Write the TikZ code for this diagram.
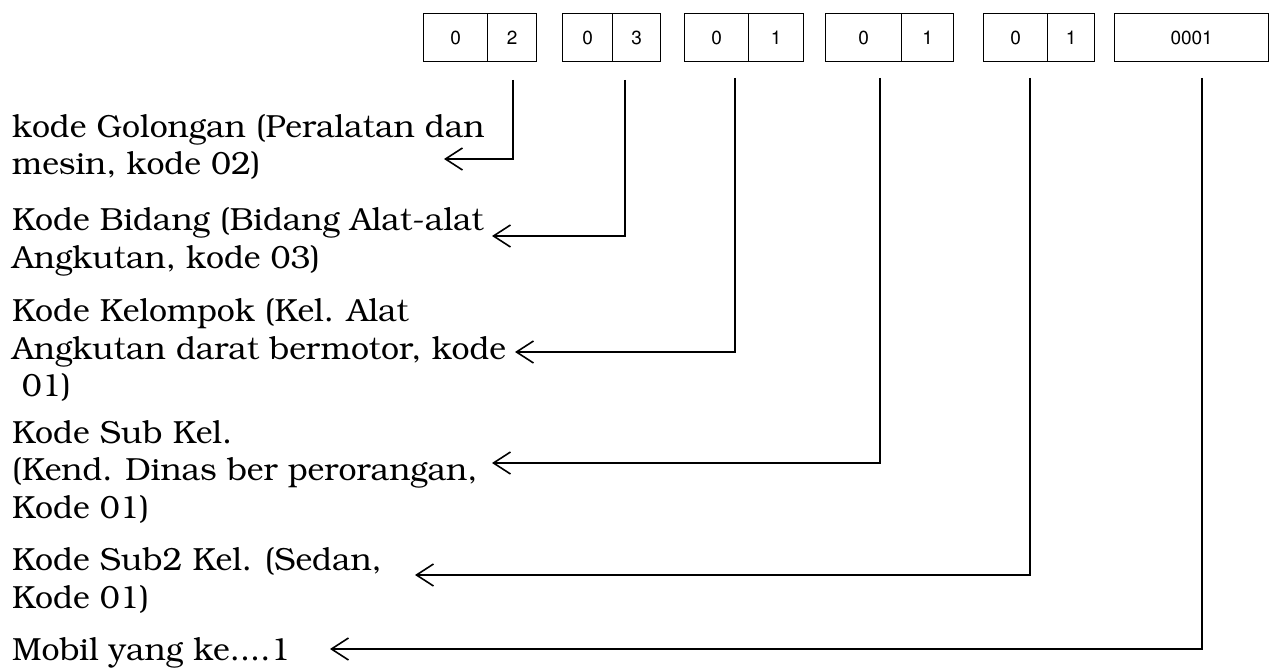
\documentclass[tikz,border=0pt]{standalone}
\usepackage[T1]{fontenc}
\usepackage{bookman}
\usetikzlibrary{arrows.meta}
\tikzset{
  cell/.style={draw, line width=1.3pt, minimum height=48pt, inner sep=0pt, anchor=north west, font=\fontfamily{phv}\fontsize{19}{21}\selectfont},
  lbl/.style={anchor=base west, align=left, inner sep=0pt, font=\fontsize{32}{37.5}\selectfont},
  conn/.style={line width=1.6pt, -{Straight Barb[length=17pt,width=22pt,line width=1.6pt]}},
}
\begin{document}
\begin{tikzpicture}[x=1pt,y=-1pt]
\useasboundingbox (0,0) rectangle (1272,668);
% boxes
\node[cell, minimum width=64pt] (a1) at (423,13) {0};
\node[cell, minimum width=49pt] (a2) at (487,13) {2};
\node[cell, minimum width=50pt] (b1) at (562,13) {0};
\node[cell, minimum width=48pt] (b2) at (612,13) {3};
\node[cell, minimum width=64pt] (c1) at (684,13) {0};
\node[cell, minimum width=55pt] (c2) at (748,13) {1};
\node[cell, minimum width=76pt] (d1) at (825,13) {0};
\node[cell, minimum width=52pt] (d2) at (901,13) {1};
\node[cell, minimum width=64pt] (e1) at (983,13) {0};
\node[cell, minimum width=47pt] (e2) at (1047,13) {1};
\node[cell, minimum width=154pt] (f1) at (1114,13) {0001};
% labels (anchored at the baseline of the last line)
\node[lbl] (l1) at (12,175) {kode Golongan (Peralatan dan\\mesin, kode 02)};
\node[lbl] (l2) at (12,268.5) {Kode Bidang (Bidang Alat-alat\\Angkutan, kode 03)};
\node[lbl] (l3) at (12,396.5) {Kode Kelompok (Kel. Alat\\Angkutan darat bermotor, kode\\\hspace{0.3em}01)};
\node[lbl] (l4) at (12,518) {Kode Sub Kel.\\(Kend. Dinas ber perorangan,\\Kode 01)};
\node[lbl] (l5) at (12,608) {Kode Sub2 Kel. (Sedan,\\Kode 01)};
\node[lbl] (l6) at (12,660) {Mobil yang ke....1};
% connector ends
\coordinate (s1) at (513,80);
\coordinate (s2) at (625,80);
\coordinate (s3) at (735,78);
\coordinate (s4) at (880,78);
\coordinate (s5) at (1030,78);
\coordinate (s6) at (1202,78);
\coordinate (t1) at (444,159);
\coordinate (t2) at (492,236);
\coordinate (t3) at (515,352);
\coordinate (t4) at (492,463);
\coordinate (t5) at (415,575);
\coordinate (t6) at (330,649);
\draw[conn] (s1) |- (t1);
\draw[conn] (s2) |- (t2);
\draw[conn] (s3) |- (t3);
\draw[conn] (s4) |- (t4);
\draw[conn] (s5) |- (t5);
\draw[conn] (s6) |- (t6);
\end{tikzpicture}
\end{document}
